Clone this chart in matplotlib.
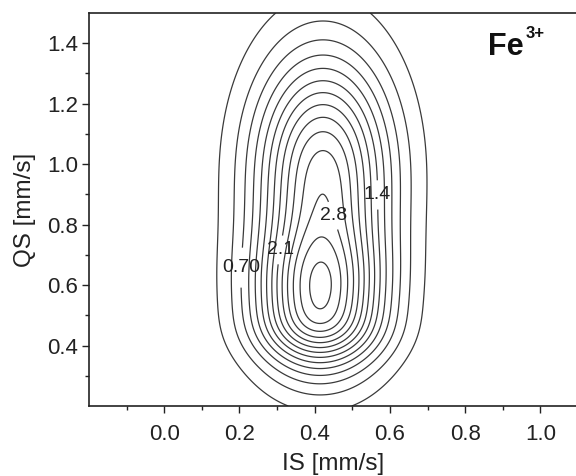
import numpy as np
import matplotlib
matplotlib.use("Agg")
import matplotlib.pyplot as plt

# Hyperfine-parameter distribution components
comp_amp = [0.4396, 2.4438, 2.6171]
comp_is = [0.413, 0.413, 0.422]
comp_qs = [0.4494, 0.5540, 0.9766]
comp_sis = [0.115, 0.117, 0.125]
comp_sqs = [0.0687, 0.1675, 0.2676]

levels = [round(0.7 / 3 * k, 4) for k in range(1, 15)]
label_levels = [0.70, 1.4, 2.1, 2.8]
label_text = ["0.70", "1.4", "2.1", "2.8"]
label_pos = [(0.22, 0.657), (0.553, 0.898), (0.31, 0.716), (0.44, 0.826)]

x_ticks = [0.0, 0.2, 0.4, 0.6, 0.8, 1.0]
y_ticks = [0.4, 0.6, 0.8, 1.0, 1.2, 1.4]

plt.rcParams['font.family'] = ['Liberation Sans', 'DejaVu Sans']

fig = plt.figure(figsize=(5.76, 4.76), dpi=100)
ax = fig.add_axes([89/576, 70/476, 489/576, 393/476])

xs = np.linspace(-0.2, 1.1, 521)
ys = np.linspace(0.2, 1.5, 521)
X, Y = np.meshgrid(xs, ys)
Z = np.zeros_like(X)
for a, xi, yi, sx, sy in zip(comp_amp, comp_is, comp_qs, comp_sis, comp_sqs):
    Z += a * np.exp(-(X - xi)**2 / (2 * sx**2) - (Y - yi)**2 / (2 * sy**2))

lc = '#3a3a3a'
lab_lv = [min(levels, key=lambda l: abs(l - v)) for v in label_levels]
plain_lv = [l for l in levels if l not in lab_lv]
ax.contour(X, Y, Z, levels=plain_lv, colors=lc, linewidths=0.9)
cs2 = ax.contour(X, Y, Z, levels=lab_lv, colors=lc, linewidths=0.9)
fmt = {cs2.levels[i]: label_text[i] for i in range(len(lab_lv))}
texts = ax.clabel(cs2, fmt=fmt, manual=label_pos, inline=True,
                  inline_spacing=1, fontsize=14, colors='#222222')
for t in texts:
    t.set_rotation(0)

ax.set_xlim(-0.2, 1.1)
ax.set_ylim(0.2, 1.5)
ax.set_xticks(x_ticks)
ax.set_xticklabels(["%.1f" % v for v in x_ticks])
ax.set_yticks(y_ticks)
ax.set_yticklabels(["%.1f" % v for v in y_ticks])
ax.set_xticks(np.arange(-0.1, 1.1, 0.1), minor=True)
ax.set_yticks(np.arange(0.3, 1.5, 0.1), minor=True)
ax.tick_params(which='major', direction='out', length=5, width=1.0,
               labelsize=16, colors='#222222')
ax.tick_params(axis='x', which='major', pad=8)
ax.tick_params(axis='y', which='major', pad=3)
ax.tick_params(which='minor', direction='out', length=3, width=1.0, colors='#222222')
for s in ax.spines.values():
    s.set_linewidth(1.2)
    s.set_color('#222222')

ax.set_xlabel("IS [mm/s]", fontsize=17.5, color='#222222', labelpad=6)
ax.set_ylabel("QS [mm/s]", fontsize=17.5, color='#222222', labelpad=8)

ax.text(0.862, 1.362, "Fe", fontsize=22, fontweight='bold',
        color='#111111', ha='left', va='baseline')
ax.text(0.962, 1.418, "3+", fontsize=12, fontweight='bold',
        color='#111111', ha='left', va='baseline')

fig.savefig("out.png", dpi=100)
